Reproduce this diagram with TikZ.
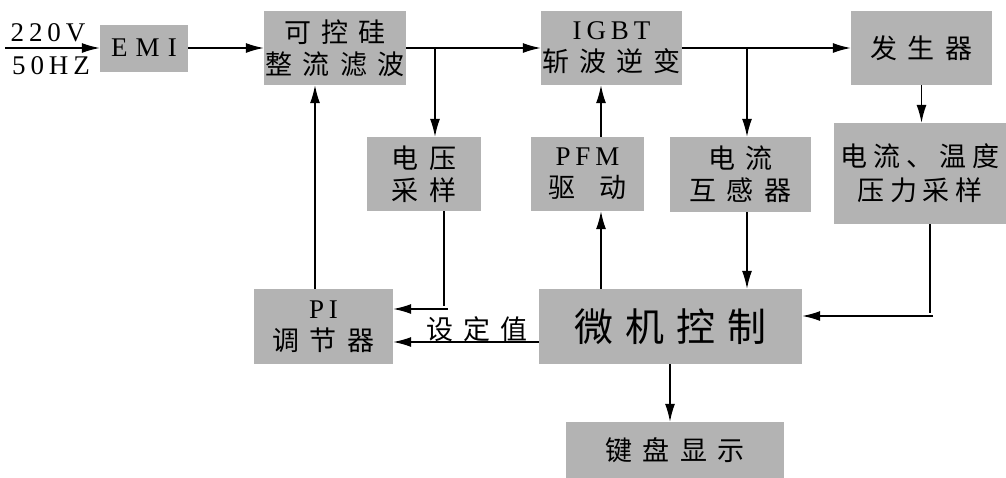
\documentclass[tikz,border=0pt]{standalone}
\usepackage{fontspec}
\setmainfont{Noto Sans CJK SC}
\newfontfamily\cjk[LetterSpace=38]{Noto Sans CJK SC}
\newfontfamily\cjkb[LetterSpace=30]{Noto Sans CJK SC}
\newfontfamily\cjkn[LetterSpace=22]{Noto Sans CJK SC}
\newfontfamily\ser[LetterSpace=18]{Liberation Serif}
\newfontfamily\serw[LetterSpace=30]{Liberation Serif}
\usetikzlibrary{arrows.meta}
\definecolor{boxgray}{HTML}{B3B3B3}
\newcommand\lt[1]{{\ser\fontsize{27}{30}\selectfont #1}}
\tikzset{
  box/.style={fill=boxgray, draw=none, inner sep=0pt, align=center,
    font=\cjk\fontsize{27}{32}\selectfont},
  lat/.style={font=\ser\fontsize{27}{30}\selectfont, inner sep=0pt},
  ln/.style={line width=1.4pt},
  arr/.style={line width=1.4pt, -{Latex[length=18pt,width=10pt]}}
}
\begin{document}
\begin{tikzpicture}[x=1pt,y=-1pt]
\useasboundingbox (0,0) rectangle (1006,477);
% boxes
\node[box, minimum width=88pt, minimum height=47pt] (emi) at (144,48) {{\serw\fontsize{27}{30}\selectfont EMI}};
\node[box, minimum width=142pt, minimum height=74pt] (scr) at (335,48) {可控硅\\整流滤波};
\node[box, minimum width=141pt, minimum height=74pt] (igbt) at (611.5,48) {\lt{IGBT}\\斩波逆变};
\node[box, minimum width=141pt, minimum height=74pt] (gen) at (921.5,48) {发生器};
\node[box, minimum width=114pt, minimum height=74pt] (vs) at (424,174) {电压\\采样};
\node[box, minimum width=113pt, minimum height=74pt] (pfm) at (587.5,174) {\lt{PFM}\\驱\hspace{0.9em}动};
\node[box, minimum width=141pt, minimum height=75pt] (ct) at (740.5,174.5) {电流\\互感器};
\node[box, minimum width=172pt, minimum height=101pt, font=\cjkn\fontsize{27}{34}\selectfont] (tps) at (920,173.5) {电流、温度\\压力采样};
\node[box, minimum width=139pt, minimum height=75pt] (pi) at (323.5,326.5) {\lt{PI}\\调节器};
\node[box, minimum width=263pt, minimum height=75pt, font=\cjkb\fontsize{39}{44}\selectfont] (mcu) at (670.5,326.5) {微机控制};
\node[box, minimum width=218pt, minimum height=57pt] (kb) at (675,450.5) {键盘显示};
% input
\coordinate (in) at (5,48);
\node[lat] (v220) at (48,33) {220V};
\node[lat] (hz50) at (51,66) {50HZ};
\node[font=\cjk\fontsize{27}{30}\selectfont, inner sep=0pt] (set) at (477,329) {设定值};
% junctions
\coordinate (j1) at (435,48);
\coordinate (j2) at (747,48);
\coordinate (c1) at (444,309);
\coordinate (c2) at (930,316);
\coordinate (xpi) at (315,0);
\coordinate (xpfm) at (601,0);
\coordinate (xct) at (747,0);
\coordinate (ymcu) at (0,342);
\coordinate (xkb) at (670,0);
% connectors
\draw[arr] (in) -- (emi.west);
\draw[arr] (emi.east) -- (scr.west);
\draw[arr] (scr.east) -- (igbt.west);
\draw[arr] (j1) -- (j1 |- vs.north);
\draw[arr] (igbt.east) -- (gen.west);
\draw[arr] (j2) -- (j2 |- ct.north);
\draw[arr] (gen.south) -- (gen.south |- tps.north);
\draw[ln] (vs.south -| c1) -- ([yshift=3pt]c1);
\draw[arr] ([xshift=4pt]c1) -- (c1 -| pi.east);
\draw[arr] (pi.north -| xpi) -- (scr.south -| xpi);
\draw[arr] (pfm.north -| xpfm) -- (igbt.south -| xpfm);
\draw[arr] (mcu.north -| xpfm) -- (pfm.south -| xpfm);
\draw[arr] (ct.south -| xct) -- (mcu.north -| xct);
\draw[ln] (tps.south -| c2) -- ([yshift=3pt]c2);
\draw[arr] ([xshift=3pt]c2) -- (c2 -| mcu.east);
\draw[arr] (mcu.west |- ymcu) -- (pi.east |- ymcu);
\draw[arr] (mcu.south -| xkb) -- (kb.north -| xkb);
\end{tikzpicture}
\end{document}
